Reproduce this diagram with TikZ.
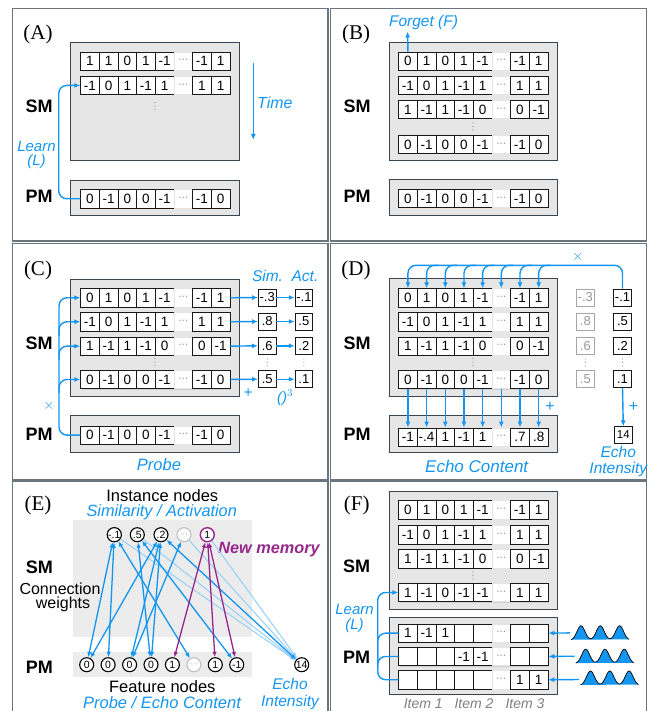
\documentclass[tikz,border=0pt]{standalone}
\usepackage{fontspec}
\setmainfont{Liberation Sans}
\newfontfamily\serifff{Liberation Serif}
\usetikzlibrary{arrows.meta,calc}
\definecolor{ablue}{RGB}{20,150,240}
\definecolor{apurple}{RGB}{150,40,140}
\definecolor{pborder}{RGB}{105,118,128}
\definecolor{bborder}{RGB}{55,70,80}
\definecolor{bfill}{RGB}{230,230,230}
\definecolor{lgray}{RGB}{236,236,236}
\newcommand\fs[1]{\fontsize{#1}{#1}\selectfont}
\tikzset{
 panel/.style={draw=pborder, line width=1.2pt},
 membox/.style={draw=bborder, fill=bfill, line width=0.9pt},
 cell/.style={draw=black!90, fill=white, line width=0.6pt, minimum width=18.675pt, minimum height=18.3pt, inner sep=0pt, anchor=north west, font=\fs{13.5}},
 dcell/.style={cell, draw=black!10, text=black!55, font=\fs{10}},
 sbox/.style={draw=black!90, fill=white, line width=0.6pt, minimum width=17.7pt, minimum height=17pt, inner sep=0pt, font=\fs{13}},
 gbox/.style={sbox, draw=black!35, text=black!40},
 barrow/.style={draw=ablue, line width=1.4pt, -{Latex[length=6pt,width=5pt]}},
 bline/.style={draw=ablue, line width=1.4pt},
 lab/.style={font=\fs{18}\bfseries},
 plabel/.style={font=\serifff\fs{21}},
 btext/.style={text=ablue, font=\fs{15.5}\itshape, inner sep=0pt},
 enode/.style={circle, draw=black, line width=1.1pt, fill=white, minimum size=14pt, inner sep=0pt, font=\fs{10.5}},
 edge2/.style={draw=ablue, line width=1.3pt, {Latex[length=5.5pt,width=4.5pt]}-{Latex[length=5.5pt,width=4.5pt]}},
 pedge/.style={draw=apurple, line width=1.3pt, {Latex[length=5.5pt,width=4.5pt]}-{Latex[length=5.5pt,width=4.5pt]}},
 ledge/.style={draw=ablue!45, line width=1pt, -{Latex[length=5.5pt,width=4.5pt]}},
}
\newcommand\mkrow[4]{%
 \fill[black!18] ({#2+1.2},{#3+1.2}) rectangle ++(149.4,18.3);
 \foreach \v [count=\i] in {#4}{%
   \ifnum\i=6
     \node[dcell] (#1-\i) at ({#2+(\i-1)*18.675},#3) {···};
   \else
     \node[cell] (#1-\i) at ({#2+(\i-1)*18.675},#3) {\v};
   \fi}}
\newcommand\vdts[2]{\foreach \d in {-3.5,0,3.5}{\fill[black!45] (#1,{#2+\d}) circle (0.55pt);}}
\newcommand\wave[2]{%
 \begin{scope}[shift={(#1,#2)}]
  \fill[ablue] plot[domain=0:58,samples=120] (\x,{-14.5*(exp(-((\x-10)^2)/32)+exp(-((\x-29.3)^2)/32)+exp(-((\x-48.6)^2)/32))}) -- cycle;
  \draw[line width=0.7pt] plot[domain=0:58,samples=120] (\x,{-14.5*(exp(-((\x-10)^2)/32)+exp(-((\x-29.3)^2)/32)+exp(-((\x-48.6)^2)/32))});
 \end{scope}}
\begin{document}
\begin{tikzpicture}[x=1pt,y=-1pt]
\useasboundingbox (0,0) rectangle (649,711);
\fill[white] (0,0) rectangle (649,711);
% panels
\draw[panel] (12.5,8.7) rectangle (328,241);
\draw[panel] (330.5,8.7) rectangle (646.5,241);
\draw[panel] (12.5,243.7) rectangle (328,479.3);
\draw[panel] (330.5,243.7) rectangle (646.5,479.3);
\draw[panel] (12.5,481) rectangle (328,725);
\draw[panel] (330.5,481) rectangle (646.5,725);

% ================= (A)
\node[plabel] (labA) at (38,34) {(A)};
\node[lab] (smA) at (39,106.7) {SM};
\node[lab] (pmAl) at (39,196.7) {PM};
\draw[membox] (70.7,42.3) rectangle (239.3,160.3);
\mkrow{rA1}{80.3}{51.7}{1,1,0,1,-1,x,-1,1}
\mkrow{rA2}{80.3}{76}{-1,0,1,-1,1,x,1,1}
\vdts{155}{106}
\coordinate (tA1) at (253.3,63);
\coordinate (tA2) at (253.3,140);
\draw[barrow] (tA1) -- (tA2);
\node[btext, font=\fs{16}\itshape, anchor=west] (timeA) at (257,102.7) {Time};
\draw[membox] (70.7,180) rectangle (239.3,215.7);
\mkrow{pmA}{80.3}{189.3}{0,-1,0,0,-1,x,-1,0}
\draw[barrow, rounded corners=8pt] (pmA-1.west) -| (58.7,140) |- (rA2-1.west);
\node[btext, font=\fs{15}\itshape] (learnA) at (36.5,146.7) {Learn};
\node[btext, font=\fs{15}\itshape] (learnA2) at (36.5,162) {(L)};

% ================= (B)
\node[plabel] (labB) at (356,34) {(B)};
\node[lab] (smB) at (357,106.7) {SM};
\node[lab] (pmBl) at (357,196.7) {PM};
\draw[membox] (389,42.3) rectangle (557.3,160.7);
\mkrow{rB1}{398.3}{51.7}{0,1,0,1,-1,x,-1,1}
\mkrow{rB2}{398.3}{76}{-1,0,1,-1,1,x,1,1}
\mkrow{rB3}{398.3}{100}{1,-1,1,-1,0,x,0,-1}
\mkrow{rB4}{398.3}{135}{0,-1,0,0,-1,x,-1,0}
\vdts{473}{126.5}
\coordinate (fgB) at (407.6,31.5);
\draw[barrow] (rB1-1.north) -- (fgB);
\node[btext] (forgetB) at (423.5,22.5) {Forget (F)};
\draw[membox] (389,179) rectangle (557.3,215.7);
\mkrow{pmB}{398.3}{189}{0,-1,0,0,-1,x,-1,0}

% ================= (C)
\node[plabel] (labC) at (38,270) {(C)};
\node[lab] (smC) at (39,343.3) {SM};
\node[lab] (pmCl) at (39,434) {PM};
\draw[membox] (70.7,279) rectangle (239.3,396.7);
\mkrow{rC1}{80.3}{288.3}{0,1,0,1,-1,x,-1,1}
\mkrow{rC2}{80.3}{312.3}{-1,0,1,-1,1,x,1,1}
\mkrow{rC3}{80.3}{336.7}{1,-1,1,-1,0,x,0,-1}
\mkrow{rC4}{80.3}{370}{0,-1,0,0,-1,x,-1,0}
\vdts{155}{362}
\draw[membox] (70.7,415.7) rectangle (239.3,452.3);
\mkrow{pmC}{80.3}{425.7}{0,-1,0,0,-1,x,-1,0}
\node[btext, font=\fs{16.5}\itshape] (probeC) at (159,465) {Probe};
\draw[barrow, rounded corners=8pt] (pmC-1.west) -| (59,340) |- (rC1-1.west);
\coordinate (brC2) at (59,336);
\coordinate (brC3) at (59,360);
\coordinate (brC4) at (59,393);
\draw[barrow, rounded corners=8pt] (brC2) |- (rC2-1.west);
\draw[barrow, rounded corners=8pt] (brC3) |- (rC3-1.west);
\draw[barrow, rounded corners=8pt] (brC4) |- (rC4-1.west);
\node[text=ablue, font=\fs{14}\bfseries] (timesC) at (49,405.7) {$\times$};
\node[sbox] (sC1) at (267.2,297.5) {-.3};
\node[sbox] (sC2) at (267.2,321.5) {.8};
\node[sbox] (sC3) at (267.2,345.8) {.6};
\node[sbox] (sC4) at (267.2,379.2) {.5};
\node[sbox] (aC1) at (303.9,297.5) {-.1};
\node[sbox] (aC2) at (303.9,321.5) {.5};
\node[sbox] (aC3) at (303.9,345.8) {.2};
\node[sbox] (aC4) at (303.9,379.2) {.1};
\foreach \k in {1,2,3,4}{
  \draw[barrow] (rC\k-8.east) -- (sC\k.west);
  \draw[barrow] (sC\k.east) -- (aC\k.west);
}
\vdts{267.2}{362.5}
\vdts{303.9}{362.5}
\node[btext] (simC) at (267.5,276) {Sim.};
\node[btext] (actC) at (305,276) {Act.};
\node[text=ablue, font=\fs{15}] (plusC) at (248.3,393.3) {+};
\node[text=ablue, font=\fs{15}\itshape] (cubeC) at (285,397.5) {()$^3$};

% ================= (D)
\node[plabel] (labD) at (356,270) {(D)};
\node[lab] (smD) at (357,343.3) {SM};
\node[lab] (pmDl) at (357,434) {PM};
\draw[membox] (389,278.3) rectangle (557.3,396.7);
\mkrow{rD1}{398.3}{288.3}{0,1,0,1,-1,x,-1,1}
\mkrow{rD2}{398.3}{312.3}{-1,0,1,-1,1,x,1,1}
\mkrow{rD3}{398.3}{336.7}{1,-1,1,-1,0,x,0,-1}
\mkrow{rD4}{398.3}{370}{0,-1,0,0,-1,x,-1,0}
\vdts{473}{362}
\draw[membox] (389,415.7) rectangle (557.3,452.3);
\mkrow{pmD}{398.3}{427.5}{-1,-.4,1,-1,1,x,.7,.8}
\node[gbox] (sD1) at (585.3,297.5) {-.3};
\node[gbox] (sD2) at (585.3,321.5) {.8};
\node[gbox] (sD3) at (585.3,345.8) {.6};
\node[gbox] (sD4) at (585.3,379.2) {.5};
\node[sbox] (aD1) at (622.5,297.5) {-.1};
\node[sbox] (aD2) at (622.5,321.5) {.5};
\node[sbox] (aD3) at (622.5,345.8) {.2};
\node[sbox] (aD4) at (622.5,379.2) {.1};
\vdts{585.3}{362.5}
\vdts{622.5}{362.5}
\draw[barrow, rounded corners=8pt] (aD1.north) |- ([yshift=23pt]rD1-1.north) -- (rD1-1.north);
\foreach \k in {2,...,8}{
  \draw[barrow, rounded corners=8pt] ([xshift=12pt,yshift=23pt]rD1-\k.north) -| (rD1-\k.north);
}
\foreach \k in {1,...,8}{
  \draw[barrow] (rD4-\k.south) -- (pmD-\k.north);
}
\node[text=ablue, font=\fs{14}\bfseries] (timesD) at (577.7,256.7) {$\times$};
\node[text=ablue, font=\fs{16}] (plusD1) at (550,406.7) {+};
\node[sbox, minimum width=18pt, minimum height=16.6pt, font=\fs{11.5}] (echoD) at (623.3,435) {14};
\draw[barrow] (aD4.south) -- (echoD.north);
\node[text=ablue, font=\fs{16}] (plusD2) at (633.5,406.7) {+};
\node[btext, font=\fs{17}\itshape] (ecD) at (476.7,466.5) {Echo Content};
\node[btext, font=\fs{15.5}\itshape] (eiD1) at (618.3,451.5) {Echo};
\node[btext, font=\fs{15.5}\itshape] (eiD2) at (618.3,469.5) {Intensity};

% ================= (E)
\node[plabel] (labE) at (38,505.3) {(E)};
\fill[lgray] (73.3,520.3) rectangle (251.7,637);
\fill[lgray] (73.3,652) rectangle (251.7,677);
\node[lab] (smE) at (39.3,567) {SM};
\node[lab] (pmE) at (39.3,667) {PM};
\node[font=\fs{16.5}] (instE) at (162.3,495.3) {Instance nodes};
\node[btext, font=\fs{16.3}\itshape] (simE) at (161.7,512) {Similarity / Activation};
\node[font=\fs{16}, inner sep=0pt] (cwE1) at (60,588.7) {Connection};
\node[font=\fs{16}, inner sep=0pt] (cwE2) at (63,604.7) {weights};
\node[font=\fs{16.5}] (featE) at (162.3,687) {Feature nodes};
\node[btext, font=\fs{16.5}\itshape] (probeE) at (162,702.7) {Probe / Echo Content};
\node[btext, font=\fs{15.5}\itshape] (eiE1) at (290,684) {Echo};
\node[btext, font=\fs{15.5}\itshape] (eiE2) at (290,702) {Intensity};
\node[text=apurple, font=\fs{16.3}\bfseries\itshape] (nmE) at (269,549.7) {New memory};
\node[enode] (i1) at (114.3,534.7) {-.1};
\node[enode] (i2) at (137.3,534.7) {.5};
\node[enode] (i3) at (161,534.7) {.2};
\node[enode, draw=black!25, text=black!40, font=\fs{8}] (i4) at (184,534.7) {···};
\node[enode, draw=apurple, line width=1.4pt] (i5) at (207.3,534.7) {1};
\node[enode] (f1) at (86.7,664.7) {0};
\node[enode] (f2) at (108.1,664.7) {0};
\node[enode] (f3) at (129.6,664.7) {0};
\node[enode] (f4) at (151,664.7) {0};
\node[enode] (f5) at (172.4,664.7) {1};
\node[enode, draw=black!25, text=black!40, font=\fs{8}] (f6) at (193.9,664.7) {···};
\node[enode] (f7) at (215.3,664.7) {1};
\node[enode] (f8) at (236.7,664.7) {-1};
\node[enode] (e14) at (301.7,664.7) {14};
\draw[ledge] (i1) -- (e14);
\draw[ledge] (i2) -- (e14);
\draw[ledge] (i4) -- (e14);
\draw[ledge] (i5) -- (e14);
\draw[edge2] (i1) -- (f1);
\draw[edge2] (i1) -- (f2);
\draw[edge2] (i1) -- (f6);
\draw[edge2] (i2) -- (f4);
\draw[edge2] (i2) -- (f8);
\draw[edge2] (i3) -- (f1);
\draw[edge2] (i3) -- (f3);
\draw[edge2] (i3) -- (f4);
\draw[edge2] (i4) -- (f3);
\draw[edge2] (i3) -- (e14);
\draw[pedge] (i5) -- (f5);
\draw[pedge] (i5) -- (f7);
\draw[pedge] (i5) -- (f8);

% ================= (F)
\node[plabel] (labF) at (356.7,505.3) {(F)};
\node[lab] (smF) at (356.7,566.3) {SM};
\node[lab] (pmF) at (356.7,657) {PM};
\draw[membox] (389,491) rectangle (557.3,609.3);
\mkrow{rF1}{398.3}{500.3}{0,1,0,1,-1,x,-1,1}
\mkrow{rF2}{398.3}{525.3}{-1,0,1,-1,1,x,1,1}
\mkrow{rF3}{398.3}{549.3}{1,-1,1,-1,0,x,0,-1}
\mkrow{rF4}{398.3}{583}{1,-1,0,-1,-1,x,1,1}
\vdts{473}{575.5}
\draw[membox] (389,617.7) rectangle (557.3,694.7);
\mkrow{pFa}{398.3}{623.7}{1,-1,1,{},{},x,{},{}}
\mkrow{pFb}{398.3}{647}{{},{},{},-1,-1,x,{},{}}
\mkrow{pFc}{398.3}{670.3}{{},{},{},{},{},x,1,1}
\draw[barrow, rounded corners=8pt] (pFc-1.west) -| (377.7,620) |- (rF4-1.west);
\draw[bline, rounded corners=8pt] (pFa-1.west) -| (377.7,660);
\draw[bline, rounded corners=8pt] (pFb-1.west) -| (377.7,670);
\node[btext, font=\fs{15}\itshape] (learnF1) at (354.5,609.7) {Learn};
\node[btext, font=\fs{15}\itshape] (learnF2) at (354.5,625.3) {(L)};
\coordinate (wa) at (570,632.9);
\coordinate (wb) at (574.5,656.2);
\coordinate (wc) at (579,679.5);
\draw[barrow] (wa) -- (pFa-8.east);
\draw[barrow] (wb) -- (pFb-8.east);
\draw[barrow] (wc) -- (pFc-8.east);
\wave{571}{640.3}
\wave{575.7}{663.7}
\wave{580.5}{685.5}
\node[text=black!50, font=\fs{14}\itshape] (it1) at (423.3,703.7) {Item 1};
\node[text=black!50, font=\fs{14}\itshape] (it2) at (474,703.7) {Item 2};
\node[text=black!50, font=\fs{14}\itshape] (it3) at (525,703.7) {Item 3};
\end{tikzpicture}
\end{document}
